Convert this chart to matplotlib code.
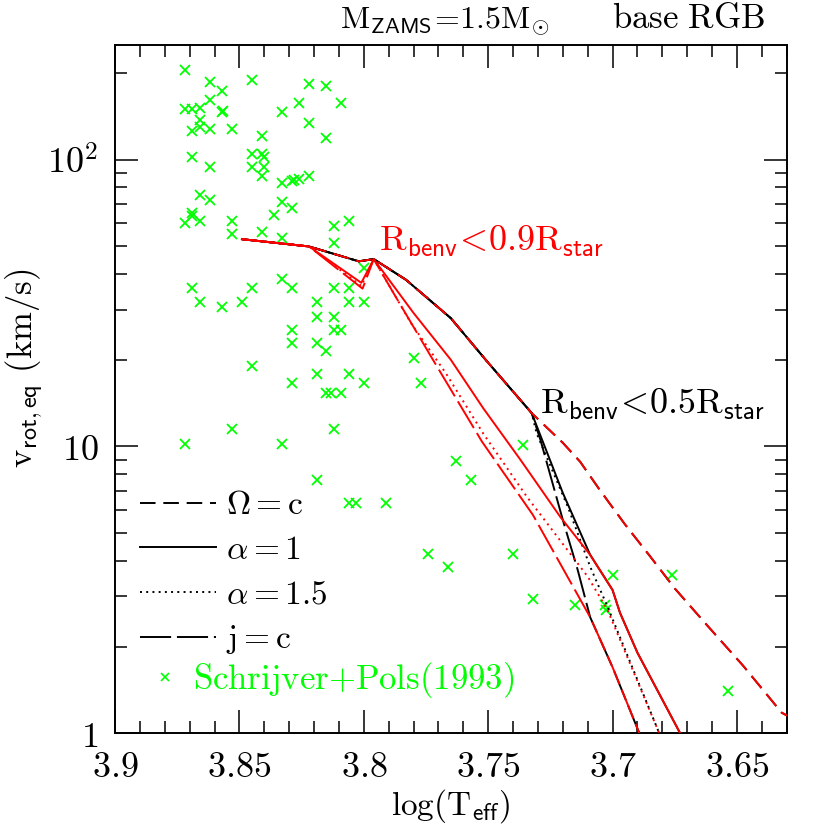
import matplotlib
matplotlib.use("Agg")
import matplotlib.pyplot as plt
from matplotlib.lines import Line2D
from matplotlib.ticker import FixedLocator, FixedFormatter, MultipleLocator, LogLocator, NullFormatter

plt.rcParams["mathtext.fontset"] = "cm"

RED = "#ff0000"
GREEN = "#00ff00"

# Schrijver & Pols (1993) observations: log Teff, v_rot (km/s)
sp_logteff = [3.872, 3.862, 3.857, 3.862, 3.872, 3.869, 3.866, 3.857, 3.8565, 3.866,
              3.866, 3.869, 3.862, 3.853, 3.869, 3.862, 3.845, 3.845, 3.845, 3.822,
              3.815, 3.833, 3.826, 3.809, 3.822, 3.841, 3.815, 3.841, 3.840, 3.840,
              3.841, 3.833, 3.829, 3.828, 3.826, 3.822, 3.866, 3.862, 3.833, 3.829,
              3.836, 3.869, 3.869, 3.872, 3.866, 3.853, 3.853, 3.841, 3.833, 3.812,
              3.806, 3.812, 3.800, 3.869, 3.845, 3.833, 3.829, 3.812, 3.806, 3.866,
              3.857, 3.849, 3.819, 3.806, 3.800, 3.819, 3.812, 3.829, 3.812, 3.809,
              3.829, 3.819, 3.815, 3.845, 3.780, 3.777, 3.819, 3.806, 3.829, 3.800,
              3.815, 3.813, 3.809, 3.812, 3.833, 3.763, 3.757, 3.819, 3.736, 3.806,
              3.803, 3.791, 3.774, 3.766, 3.853, 3.872, 3.740, 3.732, 3.715, 3.703,
              3.7025, 3.700, 3.676, 3.6535]
sp_vrot = [205, 186, 174, 162, 150, 150, 151, 147, 148, 137,
           130, 126, 128, 128, 102, 94.6, 189, 105, 94.6, 183,
           181, 146, 157, 157, 134, 121, 119, 105, 102, 94.6,
           87.7, 83, 84, 85, 85.3, 87.7, 75.4, 72.6, 71.1, 67.6,
           63.9, 65.4, 63.4, 60.3, 61.2, 61.2, 55.0, 56.0, 53.4, 58.5,
           61.2, 51.2, 42.0, 35.7, 35.7, 38.3, 35.7, 35.7, 35.7, 31.8,
           30.6, 31.8, 31.8, 31.8, 31.8, 28.2, 28.2, 25.5, 25.5, 25.5,
           22.9, 22.9, 21.5, 19.1, 20.3, 16.6, 17.9, 17.9, 16.6, 16.6,
           15.3, 15.3, 15.3, 11.5, 10.2, 8.9, 7.65, 7.65, 10.1, 6.37,
           6.37, 6.37, 4.21, 3.81, 11.5, 10.2, 4.21, 2.93, 2.80, 2.80,
           2.69, 3.57, 3.57, 1.40]

# shared track up to R_benv < 0.5 R_star (black models)
trk_x = [3.849, 3.822, 3.802, 3.796, 3.783, 3.765, 3.751, 3.7325]
trk_y = [52.8, 49.8, 44.2, 45.0, 38.1, 28.0, 20.05, 13.07]

# Omega = c (identical for both sets)
omega_x = trk_x + [3.720, 3.713, 3.706, 3.701, 3.695, 3.685, 3.675, 3.662, 3.6475, 3.632, 3.628]
omega_y = trk_y + [10.3, 8.84, 7.23, 6.30, 5.35, 4.15, 3.20, 2.38, 1.72, 1.18, 1.13]

# black: differential rotation from R_benv < 0.5 R_star
blk_a1_x = trk_x + [3.720, 3.709, 3.700, 3.697, 3.690, 3.672]
blk_a1_y = trk_y + [6.89, 4.19, 3.16, 2.63, 1.91, 0.97]
blk_a15_x = trk_x + [3.7305, 3.718, 3.709, 3.702, 3.681]
blk_a15_y = trk_y + [11.1, 6.17, 3.81, 2.76, 0.99]
blk_jc_x = trk_x + [3.729, 3.720, 3.714, 3.709, 3.700, 3.689]
blk_jc_y = trk_y + [10.55, 5.55, 3.71, 2.54, 1.70, 0.99]

# red: differential rotation from R_benv < 0.9 R_star
red_a1_x = [3.849, 3.822, 3.801, 3.796, 3.780, 3.765, 3.752, 3.737, 3.721, 3.709, 3.700, 3.697, 3.690, 3.672]
red_a1_y = [52.8, 49.8, 37.2, 45.0, 29.2, 20.05, 13.6, 8.98, 5.68, 4.19, 3.16, 2.63, 1.91, 0.97]
red_a15_x = [3.849, 3.822, 3.801, 3.796, 3.781, 3.767, 3.752, 3.7345, 3.710, 3.702, 3.681]
red_a15_y = [52.8, 49.8, 36.3, 45.0, 26.9, 18.0, 11.1, 6.69, 3.52, 2.69, 0.99]
red_jc_x = [3.849, 3.822, 3.8005, 3.796, 3.788, 3.773, 3.7525, 3.732, 3.709, 3.700, 3.689]
red_jc_y = [52.8, 49.8, 35.5, 45.0, 34.2, 20.6, 10.4, 5.77, 2.54, 1.70, 0.99]

xtick_vals = [3.9, 3.85, 3.8, 3.75, 3.7, 3.65]
xtick_labels = ["3.9", "3.85", "3.8", "3.75", "3.7", "3.65"]
ytick_vals = [1, 10, 100]
ytick_labels = ["1", "10", "10^2"]

LS_DASH = (0, (8, 4))
LS_DOT = (0, (1, 2.2))
LS_LONG = (0, (16, 3))
LW = 1.4

fig = plt.figure(figsize=(8.3, 8.3), dpi=100)
ax = fig.add_axes([0.1386, 0.1165, 0.8092, 0.8293])

ax.plot(sp_logteff, sp_vrot, ls="none", marker="x", ms=7.5, mew=1.3, color=GREEN, zorder=1)

for xs, ys, ls in [(omega_x, omega_y, LS_DASH), (blk_a1_x, blk_a1_y, "-"),
                   (blk_a15_x, blk_a15_y, LS_DOT), (blk_jc_x, blk_jc_y, LS_LONG)]:
    ax.plot(xs, ys, color="k", ls=ls, lw=LW, zorder=2)
for xs, ys, ls in [(red_a1_x, red_a1_y, "-"), (red_a15_x, red_a15_y, LS_DOT),
                   (red_jc_x, red_jc_y, LS_LONG), (omega_x, omega_y, LS_DASH)]:
    ax.plot(xs, ys, color=RED, ls=ls, lw=LW, zorder=3)

ax.set_yscale("log")
ax.set_xlim(3.9, 3.63)
ax.set_ylim(1, 251)

ax.xaxis.set_major_locator(FixedLocator(xtick_vals))
ax.xaxis.set_major_formatter(FixedFormatter([f"${t}$" for t in xtick_labels]))
ax.xaxis.set_minor_locator(MultipleLocator(0.01))
ax.yaxis.set_major_locator(FixedLocator(ytick_vals))
ax.yaxis.set_major_formatter(FixedFormatter([f"${t}$" for t in ytick_labels]))
ax.yaxis.set_minor_locator(LogLocator(base=10, subs=range(2, 10)))
ax.yaxis.set_minor_formatter(NullFormatter())

ax.tick_params(which="both", direction="in", top=True, right=True, width=1.1)
ax.tick_params(which="major", length=16.5, labelsize=26, pad=12)
ax.tick_params(which="minor", length=8.3)
for s in ax.spines.values():
    s.set_linewidth(1.4)

ax.set_xlabel(r"$\mathrm{log(T}_{\mathsf{eff}}\mathrm{)}$", fontsize=24, va="center")
ax.xaxis.set_label_coords(0.5, -0.106)
ax.set_ylabel(r"$\mathrm{v}_{\mathsf{rot,eq}}\ \mathrm{(km/s)}$", fontsize=25, va="center")
ax.yaxis.set_label_coords(-0.134, 0.53)

ax.text(3.794, 51.7, r"$\mathrm{R}_{\mathsf{benv}}\!<\!0.9\mathrm{R}_{\mathsf{star}}$",
        color=RED, fontsize=26, ha="left", va="center")
ax.text(3.729, 13.97, r"$\mathrm{R}_{\mathsf{benv}}\!<\!0.5\mathrm{R}_{\mathsf{star}}$",
        color="k", fontsize=26, ha="left", va="center")

fig.text(0.410, 0.975, r"$\mathrm{M}_{\mathsf{ZAMS}}\!=\!1.5\mathrm{M}_{\odot}$",
         fontsize=23, ha="left", va="center")
fig.text(0.9217, 0.978, r"$\mathrm{base\ RGB}$", fontsize=25, ha="right", va="center")

handles = [Line2D([], [], color="k", ls=LS_DASH, lw=LW),
           Line2D([], [], color="k", ls="-", lw=LW),
           Line2D([], [], color="k", ls=LS_DOT, lw=LW),
           Line2D([], [], color="k", ls=LS_LONG, lw=LW)]
labels = [r"$\Omega=\mathrm{c}$", r"$\alpha=1$", r"$\alpha=1.5$", r"$\mathrm{j}=\mathrm{c}$"]
leg1 = ax.legend(handles, labels, loc="upper left", bbox_to_anchor=(0.037, 0.356),
                 frameon=False, fontsize=24, handlelength=2.27, handletextpad=0.3,
                 labelspacing=0.35, borderpad=0, borderaxespad=0)
ax.add_artist(leg1)

sp_handle = Line2D([], [], ls="none", marker="x", ms=6, mew=1.2, color=GREEN)
leg2 = ax.legend([sp_handle], [r"$\mathrm{Schrijver{+}Pols(1993)}$"], loc="center left",
                 bbox_to_anchor=(0.054, 0.0774), frameon=False, fontsize=25,
                 handlelength=0.8, handletextpad=0.4, borderpad=0, borderaxespad=0)
for t in leg2.get_texts():
    t.set_color(GREEN)

fig.savefig("out.png", dpi=100)
